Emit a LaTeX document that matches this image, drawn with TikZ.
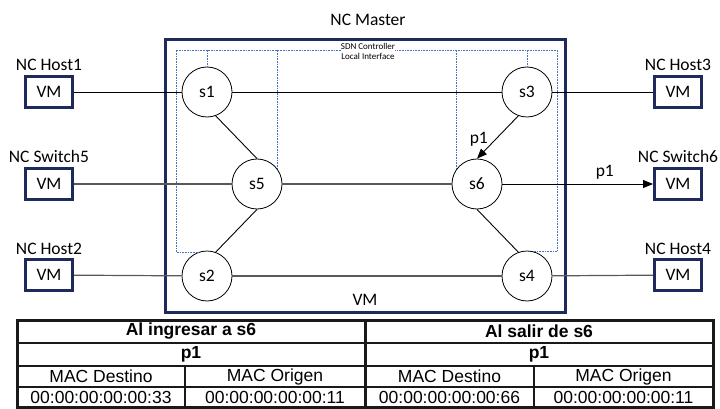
\documentclass[tikz,border=0pt]{standalone}
\usepackage{fontspec}
\setmainfont{Carlito}
\newfontfamily\tablefont{Liberation Sans}
\usetikzlibrary{arrows.meta}
\definecolor{navy}{RGB}{31,42,92}
\definecolor{ctrlblue}{RGB}{68,114,196}
\begin{document}
\begin{tikzpicture}[x=1pt,y=-1pt,
  font=\fontsize{17.5}{19}\selectfont,
  switchnode/.style={circle,draw,line width=0.8pt,minimum size=50pt,inner sep=0pt},
  vmbox/.style={draw=navy,line width=3pt,minimum width=47pt,minimum height=31pt,inner sep=0pt},
  hostlabel/.style={anchor=base,inner sep=0pt},
  link/.style={line width=0.9pt,black},
  glink/.style={line width=1.2pt,black!65},
  arr/.style={-{Triangle[length=10pt,width=8pt]}},
  ctrl/.style={ctrlblue,line width=0.7pt,dash pattern=on 0.8pt off 0.8pt},
  tline/.style={line width=2pt,black!90},
  tthick/.style={line width=3pt,black!90},
  tcell/.style={inner sep=0pt,font=\tablefont\fontsize{17.5}{19}\selectfont},
  thead/.style={inner sep=0pt,font=\tablefont\bfseries\fontsize{17.5}{19}\selectfont}]
\useasboundingbox (0,0) rectangle (720,409);

% master host
\node[draw=navy,line width=3pt,minimum width=400pt,minimum height=272pt,inner sep=0pt] (master) at (365,176) {};
\node (mastertitle) at (368,20) {NC Master};
\node (mastervm) at (365,300) {VM};

% controller interface (dotted)
\node[inner sep=0pt,align=center,font=\fontsize{9}{10}\selectfont] (ctrltext) at (368,51) {SDN Controller\\Local Interface};
\coordinate (cl) at (176,50);
\coordinate (cr) at (557,50);

% switches
\node[switchnode] (s1) at (207,92) {s1};
\node[switchnode] (s3) at (527,92) {s3};
\node[switchnode] (s5) at (257,184) {s5};
\node[switchnode] (s6) at (477,184) {s6};
\node[switchnode] (s2) at (207,276) {s2};
\node[switchnode] (s4) at (527,276) {s4};

\draw[ctrl] (s2.110) -- (s2.110 -| cl) -- (cl) -- (ctrltext.west |- cl);
\draw[ctrl] (ctrltext.east |- cr) -- (cr) -- (cr |- s4.75) -- (s4.75);
\draw[ctrl] (s1.north) -- (s1.north |- cl);
\draw[ctrl] (s5.37) -- (s5.37 |- cl);
\draw[ctrl] (s6.143) -- (s6.143 |- cl);
\draw[ctrl] (s3.north) -- (s3.north |- cl);

% hosts
\node[vmbox] (h1) at (49,92) {VM};
\node[vmbox] (sw5) at (49,184) {VM};
\node[vmbox] (h2) at (49,275) {VM};
\node[vmbox] (h3) at (678,92) {VM};
\node[vmbox] (sw6) at (678,184) {VM};
\node[vmbox] (h4) at (678,275) {VM};
\node[hostlabel] (lh1) at (49,71) {NC Host1};
\node[hostlabel] (lsw5) at (49,163) {NC Switch5};
\node[hostlabel] (lh2) at (49,254) {NC Host2};
\node[hostlabel] (lh3) at (678,71) {NC Host3};
\node[hostlabel] (lsw6) at (678,163) {NC Switch6};
\node[hostlabel] (lh4) at (678,254) {NC Host4};

% links
\draw[link] (h1) -- (s1);
\draw[link] (s1) -- (s3);
\draw[link] (s3) -- (h3);
\draw[glink] (sw5) -- (s5);
\draw[glink] (s5) -- (s6);
\draw[link,arr] (s6) -- (sw6) node[pos=0.68,above=1pt] (p1b) {p1};
\draw[glink] (h2) -- (s2);
\draw[glink] (s2) -- (s4);
\draw[glink] (s4) -- (h4);
\draw[link] (s1.290) -- (s5.north);
\draw[link] (s5.south) -- (s2.70);
\draw[link] (s6.south) -- (s4.110);
\draw[link,arr] (s3.250) -- (s6.north) node[pos=0.55,left=4pt] (p1a) {p1};

% packet headers table
\draw[tline] (17,343) -- (713,343);
\draw[tline] (17,366) -- (713,366);
\draw[tline] (17,387) -- (713,387);
\draw[tline] (185,366) -- (185,408);
\draw[tline] (534,366) -- (534,408);
\draw[tthick] (365,320) -- (365,408);
\draw[tthick] (17,320) rectangle (713,407.5);

\node[thead] (ta1) at (191,331.5) {Al ingresar a s6};
\node[thead] (ta2) at (191,354.5) {p1};
\node[tcell] (ta3) at (101,376.5) {MAC Destino};
\node[tcell] (ta4) at (275,376.5) {MAC Origen};
\node[tcell] (ta5) at (101,397.5) {00:00:00:00:00:33};
\node[tcell] (ta6) at (275,397.5) {00:00:00:00:00:11};
\node[thead] (tb1) at (539,331.5) {Al salir de s6};
\node[thead] (tb2) at (539,354.5) {p1};
\node[tcell] (tb3) at (449.5,376.5) {MAC Destino};
\node[tcell] (tb4) at (623.5,376.5) {MAC Origen};
\node[tcell] (tb5) at (449.5,397.5) {00:00:00:00:00:66};
\node[tcell] (tb6) at (623.5,397.5) {00:00:00:00:00:11};
\end{tikzpicture}
\end{document}
